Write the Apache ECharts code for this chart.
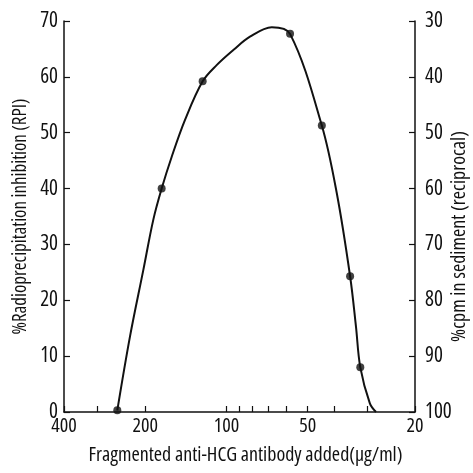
<!DOCTYPE html>
<html><head><meta charset="utf-8">
<script src="https://cdn.jsdelivr.net/npm/echarts@6/dist/echarts.min.js"></script>
<style>html,body{margin:0;padding:0;background:#fff}#c{width:473px;height:473px}</style>
</head><body><div id="c"></div>
<script>
// Smooth curve as traced in the figure (antibody µg/ml, % RPI)
var curveX = [253.8, 227.8, 203.3, 186.7, 173.8, 159.5, 142.4, 122.5, 108.7, 94.3, 81.8, 67.9, 58.1, 44.3, 39.0, 34.8, 33.1, 31.9, 29.4, 27.9];
var curveY = [0.3, 13.5, 25.4, 34.4, 40, 45.7, 52.3, 59.2, 62.1, 64.8, 67.2, 68.9, 67.7, 51.3, 39.2, 24.3, 15.3, 8.0, 1.55, 0];
// Measured points
var pointX = [253.8, 173.8, 122.5, 58.1, 44.3, 34.8, 31.9];
var pointY = [0.3, 40, 59.2, 67.7, 51.3, 24.3, 8.0];
// Tick labels
var xLabels = [400, 200, 100, 50, 20];
var xTicks = [400, 300, 200, 100, 90, 80, 70, 60, 50, 40, 30, 20];

var FONT = '"Open Sans", sans-serif';
var W = 'condensed';
var chart = echarts.init(document.getElementById('c'));
function pairs(xs, ys){ return xs.map(function(x,i){return [x, ys[i]];}); }
chart.setOption({
  animation: false,
  grid: {left: 64, right: 58, top: 21, bottom: 61, outerBoundsMode: 'none', containLabel: false},
  xAxis: {
    type: 'log', logBase: 10, min: 20, max: 400, inverse: true,
    name: 'Fragmented anti-HCG antibody added(μg/ml)',
    nameLocation: 'middle', nameGap: 33, nameMoveOverlap: false,
    nameTextStyle: {fontFamily: FONT, fontWeight: W, fontSize: 20, color: '#111', padding: [0, 0, 0, 12]},
    axisLine: {lineStyle: {color: '#111', width: 1.5}},
    axisTick: {inside: true, length: 6, customValues: xTicks, lineStyle: {color: '#111', width: 1.2}},
    axisLabel: {customValues: xLabels, fontFamily: FONT, fontWeight: W, fontSize: 20, color: '#111', margin: 4},
    minorTick: {show: false},
    splitLine: {show: false}
  },
  yAxis: [{
    type: 'value', min: 0, max: 70, interval: 10, position: 'left',
    name: '%Radioprecipitation inhibition (RPI)',
    nameLocation: 'middle', nameGap: 34, nameMoveOverlap: false,
    nameTextStyle: {fontFamily: FONT, fontWeight: W, fontSize: 19, color: '#111'},
    axisLine: {show: true, lineStyle: {color: '#111', width: 1.5}},
    axisTick: {show: true, inside: true, length: 6, lineStyle: {color: '#111', width: 1.2}},
    axisLabel: {fontFamily: FONT, fontWeight: W, fontSize: 21, color: '#111', margin: 6},
    splitLine: {show: false}
  }, {
    type: 'value', min: 30, max: 100, interval: 10, position: 'right', inverse: true,
    name: '%cpm in sediment (reciprocal)',
    nameLocation: 'middle', nameGap: 34, nameMoveOverlap: false,
    nameTextStyle: {fontFamily: FONT, fontWeight: W, fontSize: 20, color: '#111', padding: [0, 40, 0, 0]},
    axisLine: {show: true, lineStyle: {color: '#111', width: 1.5}},
    axisTick: {show: true, inside: true, length: 6, lineStyle: {color: '#111', width: 1.2}},
    axisLabel: {fontFamily: FONT, fontWeight: W, fontSize: 21, color: '#111', margin: 10},
    splitLine: {show: false}
  }],
  series: [{
    type: 'line', data: pairs(curveX, curveY), smooth: 0.35, showSymbol: false,
    lineStyle: {color: '#111', width: 2}, z: 2
  }, {
    type: 'scatter', data: pairs(pointX, pointY), symbolSize: 8,
    itemStyle: {color: '#111'}, z: 3
  }]
});
</script></body></html>
